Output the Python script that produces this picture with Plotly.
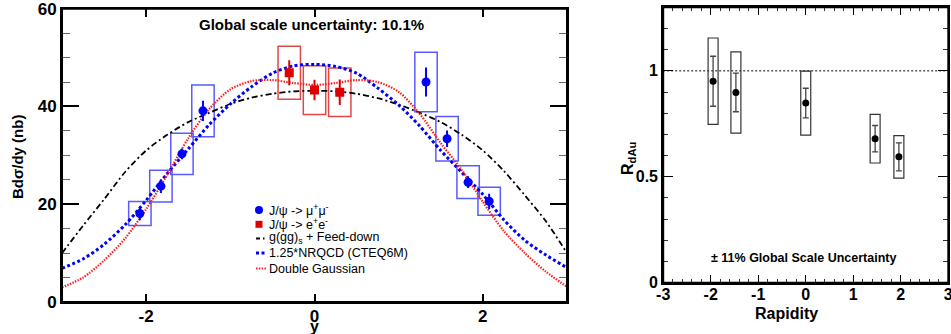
import plotly.graph_objects as go

W, H = 951, 334

# ---------------- data ----------------
rap_grid = [-3.0, -2.75, -2.5, -2.25, -2.0, -1.75, -1.5, -1.25, -1.0, -0.75, -0.5, -0.25,
            0.0, 0.25, 0.5, 0.75, 1.0, 1.25, 1.5, 1.75, 2.0, 2.25, 2.5, 2.75, 3.0]
ggs_feeddown = [10.0, 15.6, 21.0, 26.6, 31.0, 34.2, 36.8, 38.7, 40.5, 41.8, 42.6, 43.1,
                43.2, 43.1, 42.6, 41.7, 40.4, 38.7, 36.8, 34.2, 31.0, 26.8, 21.8, 16.5, 10.0]
nrqcd = [6.9, 8.8, 11.8, 15.8, 20.8, 26.3, 31.3, 36.3, 40.5, 44.0, 46.8, 48.3,
         48.6, 48.2, 46.8, 43.8, 40.3, 36.0, 31.0, 26.5, 22.0, 16.8, 12.6, 9.6, 7.0]
double_gauss = [3.0, 5.0, 8.5, 13.0, 19.0, 26.0, 33.5, 39.5, 43.5, 45.2, 45.4, 44.8,
                44.4, 44.8, 45.4, 45.0, 43.0, 38.5, 32.5, 27.0, 20.5, 14.5, 10.0, 6.2, 3.1]

mu_rap = [-2.075, -1.825, -1.575, -1.325, 1.325, 1.575, 1.825, 2.075]
mu_xsec = [18.1, 23.7, 30.3, 39.1, 45.0, 33.4, 24.5, 20.6]
mu_stat = [1.4, 1.4, 1.1, 2.05, 2.95, 1.7, 1.2, 1.55]
mu_sys = [2.45, 3.25, 4.2, 5.3, 6.1, 4.55, 3.35, 2.85]

e_rap = [-0.3, 0.0, 0.3]
e_xsec = [46.9, 43.35, 42.9]
e_stat = [2.55, 2.1, 2.6]
e_sys = [5.4, 5.0, 4.95]

rdau_rap = [-1.95, -1.47, 0.0, 1.46, 1.96]
rdau = [0.951, 0.898, 0.848, 0.680, 0.594]
rdau_stat = [0.118, 0.091, 0.070, 0.062, 0.066]
rdau_sys = [0.204, 0.192, 0.151, 0.115, 0.100]

left_ticks = [-2, 0, 2]
left_ticklabels = ["-2", "0", "2"]
left_yticks = [0, 20, 40, 60]
right_xticks = [-3, -2, -1, 0, 1, 2, 3]
right_xticklabels = ["-3", "-2", "-1", "0", "1", "2", "3"]
right_yticks = [0, 0.5, 1]
right_yticklabels = ["0", "0.5", "1"]

legend_labels = ["J/ψ -> μ<sup>+</sup>μ<sup>-</sup>", "J/ψ -> e<sup>+</sup>e<sup>-</sup>",
                 "g(gg)<sub>s</sub> + Feed-down", "1.25*NRQCD (CTEQ6M)", "Double Gaussian"]

# ---------------- styles ----------------
FONT = "Liberation Sans"
BLUE = "#0000ff"
RED = "#dd0000"
BOX_BLUE = "rgb(90,90,255)"
BOX_RED = "rgb(225,70,70)"


def px(x):
    return x / W


def py(y):
    return 1 - y / H


fig = go.Figure()

# theory curves (left panel)
fig.add_trace(go.Scatter(x=rap_grid, y=ggs_feeddown, mode="lines", xaxis="x", yaxis="y",
                         line=dict(color="black", width=1.8, dash="6px,3px,2px,3px",
                                   shape="spline", smoothing=0.8), showlegend=False))
fig.add_trace(go.Scatter(x=rap_grid, y=nrqcd, mode="lines", xaxis="x", yaxis="y",
                         line=dict(color=BLUE, width=3, dash="3px,2.5px",
                                   shape="spline", smoothing=0.8), showlegend=False))
fig.add_trace(go.Scatter(x=rap_grid, y=double_gauss, mode="lines", xaxis="x", yaxis="y",
                         line=dict(color="#ff2020", width=2.2, dash="1.5px,1.3px",
                                   shape="spline", smoothing=0.8), showlegend=False))

# data points (left)
fig.add_trace(go.Scatter(x=mu_rap, y=mu_xsec, mode="markers", xaxis="x", yaxis="y",
                         marker=dict(symbol="circle", size=9, color=BLUE),
                         error_y=dict(type="data", array=mu_stat, color=BLUE, thickness=2, width=0),
                         showlegend=False))
fig.add_trace(go.Scatter(x=e_rap, y=e_xsec, mode="markers", xaxis="x", yaxis="y",
                         marker=dict(symbol="square", size=9, color=RED),
                         error_y=dict(type="data", array=e_stat, color=RED, thickness=2, width=0),
                         showlegend=False))

# right panel points
fig.add_trace(go.Scatter(x=rdau_rap, y=rdau, mode="markers", xaxis="x2", yaxis="y2",
                         marker=dict(symbol="circle", size=7, color="black"),
                         error_y=dict(type="data", array=rdau_stat, color="#444444",
                                      thickness=1.3, width=3),
                         showlegend=False))

shapes = []
HW_L = 0.133
HW_R = 0.105
for xv, yv, s in zip(mu_rap, mu_xsec, mu_sys):
    shapes.append(dict(type="rect", xref="x", yref="y", x0=xv - HW_L, x1=xv + HW_L,
                       y0=yv - s, y1=yv + s, line=dict(color=BOX_BLUE, width=1.5), layer="below"))
for xv, yv, s in zip(e_rap, e_xsec, e_sys):
    shapes.append(dict(type="rect", xref="x", yref="y", x0=xv - HW_L, x1=xv + HW_L,
                       y0=yv - s, y1=yv + s, line=dict(color=BOX_RED, width=1.5), layer="below"))
for xv, yv, s in zip(rdau_rap, rdau, rdau_sys):
    shapes.append(dict(type="rect", xref="x2", yref="y2", x0=xv - HW_R, x1=xv + HW_R,
                       y0=yv - s, y1=yv + s, line=dict(color="#333333", width=1.2), layer="below"))
# unity line
shapes.append(dict(type="line", xref="x2 domain", yref="y2", x0=0, x1=1, y0=1, y1=1,
                   line=dict(color="black", width=1, dash="2px,2px"), layer="below"))
# panel frames
shapes.append(dict(type="rect", xref="x domain", yref="y domain", x0=0, x1=1, y0=0, y1=1,
                   line=dict(color="black", width=2)))
shapes.append(dict(type="rect", xref="x2 domain", yref="y2 domain", x0=0, x1=1, y0=0, y1=1,
                   line=dict(color="black", width=2)))

# manual legend symbols (paper coords)
shapes.append(dict(type="circle", xref="paper", yref="paper", x0=px(255), x1=px(263),
                   y0=py(214), y1=py(206), fillcolor=BLUE, line=dict(width=0)))
shapes.append(dict(type="rect", xref="paper", yref="paper", x0=px(255.5), x1=px(262.5),
                   y0=py(227.8), y1=py(220.8), fillcolor=RED, line=dict(width=0)))
shapes.append(dict(type="line", xref="paper", yref="paper", x0=px(256), x1=px(265),
                   y0=py(238.5), y1=py(238.5),
                   line=dict(color="black", width=1.8, dash="4px,3px,1.5px,3px")))
shapes.append(dict(type="line", xref="paper", yref="paper", x0=px(256), x1=px(265),
                   y0=py(253), y1=py(253), line=dict(color=BLUE, width=3, dash="3px,2.5px")))
shapes.append(dict(type="line", xref="paper", yref="paper", x0=px(256), x1=px(267),
                   y0=py(268.5), y1=py(268.5), line=dict(color="#ff2020", width=2, dash="1.5px,1.3px")))

annotations = []
legend_rows = [210, 224, 238, 253, 269]
for lab, yr in zip(legend_labels, legend_rows):
    annotations.append(dict(text=lab, xref="paper", yref="paper", x=px(267), y=py(yr),
                            xanchor="left", yanchor="middle", showarrow=False,
                            font=dict(family=FONT, size=12.5, color="black")))

bold = dict(family=FONT, color="black", weight="bold")
annotations += [
    dict(text="Global scale uncertainty: 10.1%", xref="paper", yref="paper",
         x=px(311), y=py(25), xanchor="center", yanchor="middle", showarrow=False,
         font=dict(size=15, **bold)),
    dict(text="Bdσ/dy (nb)", xref="paper", yref="paper", x=px(17), y=py(157),
         xanchor="center", yanchor="middle", textangle=-90, showarrow=False,
         font=dict(size=15, **bold)),
    dict(text="y", xref="paper", yref="paper", x=px(314), y=py(326),
         xanchor="center", yanchor="middle", showarrow=False, font=dict(size=16, **bold)),
    dict(text="R<sub>dAu</sub>", xref="paper", yref="paper", x=px(628), y=py(159),
         xanchor="center", yanchor="middle", textangle=-90, showarrow=False,
         font=dict(size=16, **bold)),
    dict(text="Rapidity", xref="paper", yref="paper", x=px(786), y=py(313),
         xanchor="center", yanchor="middle", showarrow=False, font=dict(size=16, **bold)),
    dict(text="± 11% Global Scale Uncertainty", xref="paper", yref="paper", x=px(803), y=py(258),
         xanchor="center", yanchor="middle", showarrow=False, font=dict(size=12.5, **bold)),
]

tickfont = dict(family=FONT, size=17, color="black", weight="bold")
tickfont_r = dict(family=FONT, size=16, color="black", weight="bold")

fig.update_layout(
    width=W, height=H, margin=dict(l=0, r=0, t=0, b=0, autoexpand=False),
    paper_bgcolor="white", plot_bgcolor="white", showlegend=False,
    shapes=shapes, annotations=annotations,
    xaxis=dict(domain=[px(62), px(567)], range=[-3, 3], tickvals=left_ticks,
               ticktext=left_ticklabels,
               ticks="inside", ticklen=8, tickwidth=1.5, tickcolor="black", automargin=False,
               ticklabeloverflow="allow", ticklabelstandoff=-2,
               showline=True, linewidth=2, linecolor="black", mirror="allticks",
               showgrid=False, zeroline=False, tickfont=tickfont, anchor="y"),
    yaxis=dict(domain=[py(302), py(8.7)], range=[0, 60], tickvals=left_yticks,
               ticks="inside", ticklen=17, tickwidth=1.5, tickcolor="black", automargin=False,
               ticklabeloverflow="allow",
               minor=dict(dtick=5, ticks="inside", ticklen=8, tickwidth=1, tickcolor="#666666"),
               showline=True, linewidth=2, linecolor="black", mirror="allticks",
               showgrid=False, zeroline=False, tickfont=tickfont, anchor="x"),
    xaxis2=dict(domain=[px(663.2), px(948.3)], range=[-3, 3], tickvals=right_xticks,
                ticktext=right_xticklabels,
                ticks="inside", ticklen=8, tickwidth=1.3, tickcolor="black", automargin=False,
                ticklabeloverflow="allow", ticklabelstandoff=-4,
                minor=dict(dtick=0.2, ticks="inside", ticklen=4, tickwidth=1, tickcolor="#333333"),
                showline=True, linewidth=2, linecolor="black", mirror="allticks",
                showgrid=False, zeroline=False, tickfont=tickfont_r, anchor="y2"),
    yaxis2=dict(domain=[py(282.7), py(7.3)], range=[0, 1.3], tickvals=right_yticks,
                ticktext=right_yticklabels, automargin=False, ticklabeloverflow="allow",
                ticks="inside", ticklen=10, tickwidth=1.3, tickcolor="black",
                minor=dict(dtick=0.1, ticks="inside", ticklen=5, tickwidth=1, tickcolor="#333333"),
                showline=True, linewidth=2, linecolor="black", mirror="allticks",
                showgrid=False, zeroline=False, tickfont=tickfont_r, anchor="x2"),
)

fig.write_html("out.html", config={"displayModeBar": False},
               post_script="document.body.style.margin='0';document.body.style.overflow='hidden';")
